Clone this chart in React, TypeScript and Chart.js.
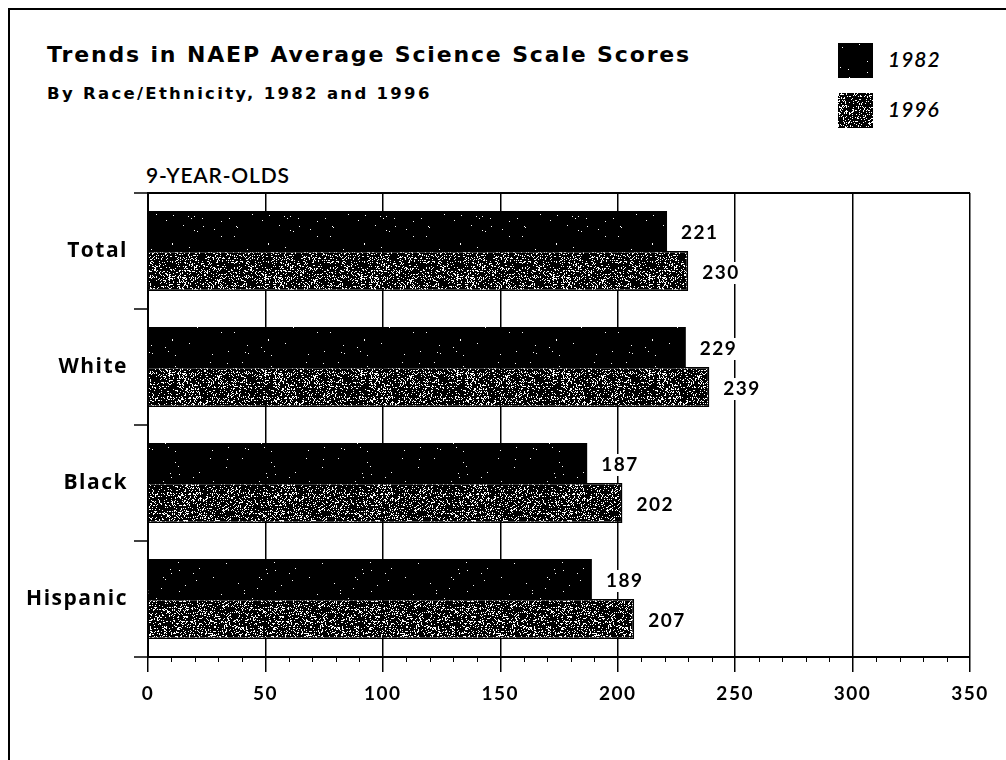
import React, { useEffect, useMemo, useRef } from "react";
import { Chart, registerables } from "chart.js";

Chart.register(...registerables);

// ---- data ----
const categories = ["Total", "White", "Black", "Hispanic"];
const seriesLabels = ["1982", "1996"];
const scores1982 = [221, 229, 187, 189];
const scores1996 = [230, 239, 202, 207];
const xTickValues = [0, 50, 100, 150, 200, 250, 300, 350];
const chartTitle = "Trends in NAEP Average Science Scale Scores";
const chartSubtitle = "By Race/Ethnicity, 1982 and 1996";
const panelLabel = "9-YEAR-OLDS";

// ---- speckled texture (style only; deterministic LCG, not data) ----
function makeSpeckle(density: number, seed: number): HTMLCanvasElement {
  const size = 96;
  const c = document.createElement("canvas");
  c.width = size;
  c.height = size;
  const g = c.getContext("2d")!;
  g.fillStyle = "#000";
  g.fillRect(0, 0, size, size);
  const img = g.getImageData(0, 0, size, size);
  let s = seed >>> 0;
  const next = () => {
    s = (Math.imul(s, 1664525) + 1013904223) >>> 0;
    return s / 4294967296;
  };
  for (let i = 0; i < size * size; i++) {
    if (next() < density) {
      img.data[i * 4] = 255;
      img.data[i * 4 + 1] = 255;
      img.data[i * 4 + 2] = 255;
    }
  }
  g.putImageData(img, 0, 0);
  return c;
}

const LATO = "Lato, 'Open Sans', sans-serif";
const OPEN = "'Open Sans', Lato, sans-serif";
const DEJAVU = "'DejaVu Sans', Lato, sans-serif";

export default function App() {
  const canvasRef = useRef<HTMLCanvasElement | null>(null);

  const textures = useMemo(() => {
    const t1982 = makeSpeckle(0.006, 12345);
    const t1996 = makeSpeckle(0.2, 987654);
    return { t1982, t1996, url1982: t1982.toDataURL(), url1996: t1996.toDataURL() };
  }, []);

  useEffect(() => {
    const canvas = canvasRef.current;
    if (!canvas) return;
    const ctx = canvas.getContext("2d")!;
    const pat1982 = ctx.createPattern(textures.t1982, "repeat")!;
    const pat1996 = ctx.createPattern(textures.t1996, "repeat")!;

    const valueLabels = {
      id: "valueLabels",
      afterDatasetsDraw(chart: any) {
        const c = chart.ctx;
        c.save();
        c.font = `bold 19px ${LATO}`;
        c.textBaseline = "middle";
        c.textAlign = "left";
        chart.data.datasets.forEach((ds: any, di: number) => {
          chart.getDatasetMeta(di).data.forEach((bar: any, i: number) => {
            const txt = String(ds.data[i]);
            const w = c.measureText(txt).width;
            const x = bar.x + 14;
            const y = bar.y + 2;
            c.fillStyle = "#fff";
            c.fillRect(x - 3, y - 11, w + 6, 22);
            c.fillStyle = "#000";
            c.fillText(txt, x, y);
          });
        });
        c.restore();
      },
    };

    const minorTicks = {
      id: "minorTicks",
      afterDraw(chart: any) {
        const xs = chart.scales.x;
        const c = chart.ctx;
        c.save();
        c.strokeStyle = "#000";
        c.lineWidth = 1;
        for (let v = xs.min; v <= xs.max; v += 10) {
          if (v % 50 === 0) continue;
          const px = Math.round(xs.getPixelForValue(v)) + 0.5;
          c.beginPath();
          c.moveTo(px, xs.top);
          c.lineTo(px, xs.top + 5);
          c.stroke();
        }
        c.restore();
      },
    };

    const spacing = {
      id: "spacing",
      beforeDraw(chart: any) {
        (chart.ctx as any).letterSpacing = "1.5px";
      },
    };

    const chart = new Chart(canvas, {
      type: "bar",
      data: {
        labels: categories,
        datasets: [
          {
            label: seriesLabels[0],
            data: scores1982,
            backgroundColor: pat1982 as any,
            borderWidth: 0,
            categoryPercentage: 0.69,
            barPercentage: 1,
          },
          {
            label: seriesLabels[1],
            data: scores1996,
            backgroundColor: pat1996 as any,
            borderColor: "#000",
            borderWidth: 1.5,
            borderSkipped: "start",
            categoryPercentage: 0.69,
            barPercentage: 1,
          },
        ],
      },
      options: {
        indexAxis: "y",
        animation: false,
        responsive: false,
        devicePixelRatio: 1,
        layout: { padding: { top: 193, right: 36, left: 0, bottom: 0 } },
        plugins: {
          legend: { display: false },
          title: { display: false },
          tooltip: { enabled: false },
        },
        scales: {
          x: {
            type: "linear",
            min: 0,
            max: 350,
            afterBuildTicks: (s: any) => {
              s.ticks = xTickValues.map((v) => ({ value: v }));
            },
            grid: {
              color: "#000",
              lineWidth: 1.5,
              tickLength: 15,
              tickColor: "#000",
              tickWidth: 1.5,
            },
            border: { color: "#000", width: 2 },
            ticks: {
              color: "#000",
              font: { family: LATO, size: 19, weight: "bold" },
              padding: 10,
              maxRotation: 0,
              autoSkip: false,
            },
            afterFit: (s: any) => {
              s.height = 103;
            },
          },
          y: {
            type: "category",
            grid: {
              offset: true,
              color: (c: any) => (c.index === 0 ? "#000" : "rgba(0,0,0,0)"),
              lineWidth: 2,
              tickLength: 14,
              tickColor: "#000",
              tickWidth: 1.5,
            },
            border: { color: "#000", width: 2 },
            ticks: {
              color: "#000",
              font: { family: OPEN, size: 21, weight: "bold" },
              padding: 6,
            },
            afterFit: (s: any) => {
              s.width = 148;
            },
          },
        },
      },
      plugins: [spacing, valueLabels, minorTicks],
    } as any);

    return () => chart.destroy();
  }, [textures]);

  const abs = (extra: React.CSSProperties): React.CSSProperties => ({
    position: "absolute",
    margin: 0,
    lineHeight: 1,
    whiteSpace: "nowrap",
    color: "#000",
    fontFamily: LATO,
    ...extra,
  });

  const legendItems = seriesLabels.map((lab, i) => ({
    label: lab,
    url: i === 0 ? textures.url1982 : textures.url1996,
  }));

  return (
    <div>
      <div
        style={{
          position: "absolute",
          left: 8,
          top: 8,
          right: 0,
          bottom: 0,
          borderTop: "2px solid #000",
          borderLeft: "2px solid #000",
        }}
      />
      <div style={abs({ left: 47, top: 44, fontFamily: DEJAVU, fontSize: 22, fontWeight: 700, letterSpacing: "1.85px" })}>
        {chartTitle}
      </div>
      <div style={abs({ left: 47, top: 86, fontFamily: DEJAVU, fontSize: 16.5, fontWeight: 700, letterSpacing: "2.3px" })}>
        {chartSubtitle}
      </div>
      <div style={abs({ left: 146, top: 164, fontSize: 21, fontWeight: 600, letterSpacing: "0.8px" })}>
        {panelLabel}
      </div>
      {legendItems.map((it, i) => (
        <React.Fragment key={it.label}>
          <div
            style={{
              position: "absolute",
              left: 838,
              top: 43 + i * 50,
              width: 35,
              height: 35,
              backgroundImage: `url(${it.url})`,
            }}
          />
          <div style={abs({ left: 888, top: 48 + i * 50, fontSize: 21, fontStyle: "italic", fontWeight: 600, letterSpacing: "1px" })}>
            {it.label}
          </div>
        </React.Fragment>
      ))}
      <canvas
        ref={canvasRef}
        width={1006}
        height={760}
        style={{ position: "absolute", left: 0, top: 0, width: 1006, height: 760 }}
      />
    </div>
  );
}
